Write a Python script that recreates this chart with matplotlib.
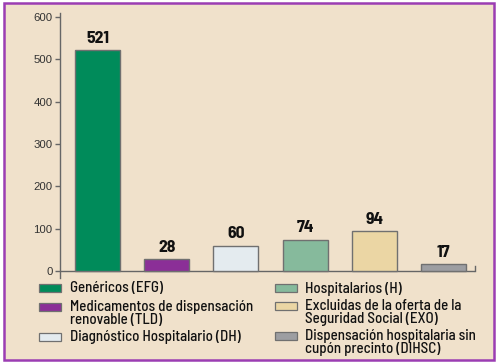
import matplotlib
matplotlib.use("Agg")
import matplotlib.pyplot as plt
from matplotlib.patches import Rectangle
from matplotlib import font_manager

names = {f.name for f in font_manager.fontManager.ttflist}
COND = "Barlow Semi Condensed" if "Barlow Semi Condensed" in names else "DejaVu Sans"
TICKF = "Liberation Sans" if "Liberation Sans" in names else "DejaVu Sans"

categories = ["EFG", "TLD", "DH", "H", "EXO", "DIHSC"]
values = [521, 28, 60, 74, 94, 17]
labels = ["Genéricos (EFG)",
          "Medicamentos de dispensación\nrenovable (TLD)",
          "Diagnóstico Hospitalario (DH)",
          "Hospitalarios (H)",
          "Excluidas de la oferta de la\nSeguridad Social (EXO)",
          "Dispensación hospitalaria sin\ncupón precinto (DIHSC)"]
colors = ["#008B5A", "#8B2F97", "#E4EBEF", "#86BA9C", "#EBD6A4", "#9D9EA2"]
yticks = [0, 100, 200, 300, 400, 500, 600]

W, H = 498, 364
BG = "#F0E1CB"
fig = plt.figure(figsize=(W / 100, H / 100), dpi=100)
fig.patch.set_facecolor("white")
renderer = fig.canvas.get_renderer()


def measure(text, size, weight="normal", family=COND):
    t = fig.text(0, 0, text, fontsize=size, fontweight=weight, family=family)
    bb = t.get_window_extent(renderer)
    t.remove()
    return bb


def fit_size(text, target_px, weight="normal", family=COND, base=10):
    return base * target_px / measure(text, base, weight, family).width


def fx(x):
    return x / W


def fy(y):
    return 1 - y / H


LEG_W = 500
PITCH = 13.0
LEG_FS = fit_size("Medicamentos de dispensación", 183, weight=LEG_W)
VAL_FS = fit_size("521", 23, weight="bold")
TICK_FS = fit_size("600", 19, family=TICKF)
LSP = PITCH / measure("lp", LEG_FS, LEG_W).height

# panel background and border
fig.add_artist(Rectangle((fx(4), fy(360)), fx(494) - fx(4), fy(3) - fy(360),
                         transform=fig.transFigure, facecolor=BG,
                         edgecolor="#9B3DB3", lw=1.8, zorder=0))

ax = fig.add_axes([fx(59.5), fy(278), fx(475) - fx(59.5), fy(13) - fy(278)])
ax.set_facecolor("none")
x = list(range(len(categories)))
ax.bar(x, values, width=0.652, color=colors, edgecolor="#707070", lw=1.0, zorder=3)
ax.set_xlim(-0.55, 5.457)
ax.set_ylim(-16.5, 609)
for xi, v in zip(x, values):
    ax.text(xi, v + 17, str(v), ha="center", va="baseline", fontsize=VAL_FS,
            fontweight="bold", family=COND, color="#111111")

for s in ["top", "right", "bottom"]:
    ax.spines[s].set_visible(False)
ax.spines["left"].set_color("#666666")
ax.spines["left"].set_linewidth(1.0)
ax.axhline(0, color="#666666", lw=1.0, zorder=2)
ax.plot([5.457, 5.457], [0, 12], color="#666666", lw=1.0, clip_on=False)
ax.set_xticks([])
ax.set_yticks(yticks)
ax.tick_params(axis="y", length=3.5, width=1.0, color="#666666",
               labelsize=TICK_FS, labelcolor="#333333", pad=1.5)
for lbl in ax.get_yticklabels():
    lbl.set_family(TICKF)

# legend drawn manually
rows = [288, 307, 337]
cols = [(39, 70), (275, 305)]
for i, (lab, c) in enumerate(zip(labels, colors)):
    col = i // 3
    row = i % 3
    px, tx = cols[col]
    yc = rows[row] - (1 if col == 1 and row > 0 else 0)
    fig.add_artist(Rectangle((fx(px), fy(yc + 4)), fx(22), 8 / H,
                             transform=fig.transFigure, facecolor=c,
                             edgecolor="#707070", lw=0.9))
    nlines = lab.count("\n") + 1
    fig.text(fx(tx), fy(yc + 4.5 + (nlines - 1) * PITCH), lab, ha="left",
             va="baseline", fontsize=LEG_FS, fontweight=LEG_W, family=COND,
             color="#111111", linespacing=LSP)

fig.savefig("out.png", dpi=100, facecolor=fig.get_facecolor())
